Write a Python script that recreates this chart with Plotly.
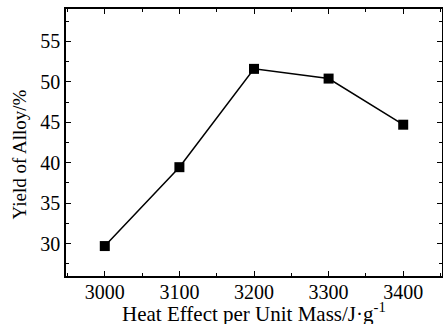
import plotly.graph_objects as go

heat_effect = [3000, 3100, 3200, 3300, 3400]
yield_alloy = [29.7, 39.45, 51.6, 50.4, 44.7]

x_ticks = [3000, 3100, 3200, 3300, 3400]
y_ticks = [30, 35, 40, 45, 50, 55]

x_title = "Heat Effect per Unit Mass/J·g<sup>-1</sup>"
y_title = "Yield of Alloy/%"

fam = "Liberation Serif, Times New Roman, serif"
font = dict(family=fam, size=20, color="black")
xtfont = dict(family=fam, size=21, color="black")
yfont = dict(family=fam, size=19, color="black")

fig = go.Figure()
fig.add_trace(go.Scatter(
    x=heat_effect, y=yield_alloy, mode="lines+markers",
    line=dict(color="black", width=1.5),
    marker=dict(symbol="square", size=10, color="black"),
    showlegend=False, hoverinfo="skip",
))

axis_common = dict(
    showline=True, linecolor="black", linewidth=1.5, mirror="ticks",
    ticks="inside", ticklen=5, tickwidth=1.2, tickcolor="black",
    showgrid=False, zeroline=False, tickfont=font, automargin=False,
)

fig.update_xaxes(
    range=[2948, 3452], tickvals=x_ticks, ticktext=[str(v) for v in x_ticks],
    minor=dict(ticks="inside", ticklen=3, dtick=50, tick0=3000, tickcolor="black", tickwidth=1.2),
    ticklabelstandoff=-3,
    **axis_common,
)
fig.update_yaxes(
    range=[26, 59], tickvals=y_ticks, ticktext=[str(v) for v in y_ticks],
    minor=dict(ticks="inside", ticklen=3, dtick=2.5, tick0=0, tickcolor="black", tickwidth=1.2),
    **axis_common,
)

fig.add_annotation(
    text=x_title, xref="paper", yref="paper", x=0.50, y=-0.0805,
    xanchor="center", yanchor="top", showarrow=False, font=xtfont,
)
fig.add_annotation(
    text=y_title, xref="paper", yref="paper", x=-0.1237, y=0.457,
    xanchor="center", yanchor="middle", textangle=-90, showarrow=False, font=yfont,
)

fig.update_layout(
    width=443, height=324,
    margin=dict(l=66, r=1, t=9, b=48),
    paper_bgcolor="white", plot_bgcolor="white",
    font=font,
)

fig.write_html(
    "out.html",
    config={"displayModeBar": False},
    post_script="document.body.style.margin='0';document.body.style.overflow='hidden';",
)
